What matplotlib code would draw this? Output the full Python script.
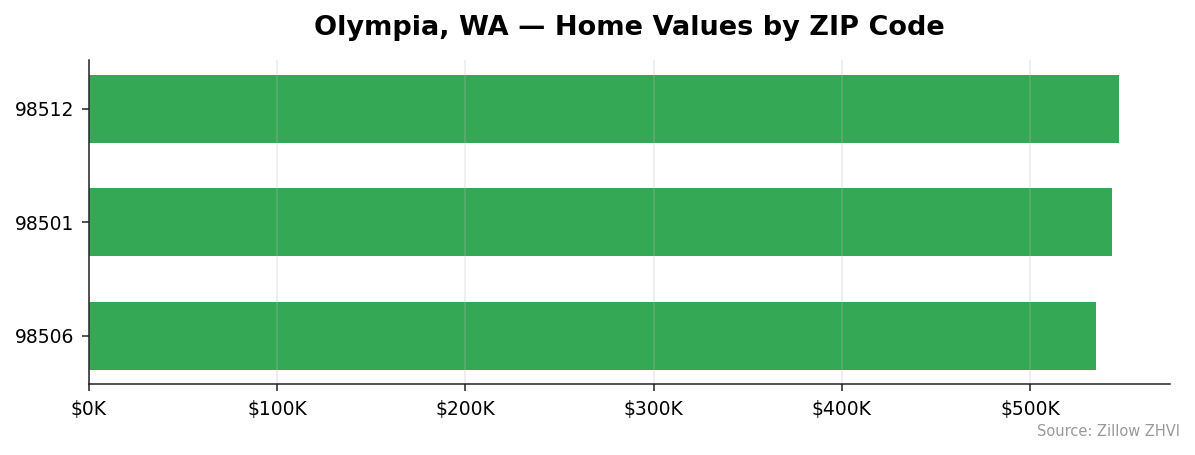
import matplotlib
matplotlib.use("Agg")
import matplotlib.pyplot as plt
from matplotlib.ticker import FuncFormatter

zips = ["98506", "98501", "98512"]
values = [535100, 543600, 547200]

fig = plt.figure(figsize=(11.95, 4.55), dpi=100)
ax = fig.add_axes([89/1195, 1-384.3/455, (1170.3-89)/1195, (384.3-60)/455])

ax.barh(zips, values, height=0.6, color="#35a855")
ax.set_xlim(0, max(values) * 1.05)
ax.xaxis.set_major_formatter(FuncFormatter(lambda v, p: f"${v/1000:.0f}K"))
ax.grid(axis="x", color="#bbbbbb", alpha=0.3, linewidth=1.1)
ax.spines["top"].set_visible(False)
ax.spines["right"].set_visible(False)
for s in ("left", "bottom"):
    ax.spines[s].set_color("#222222")
    ax.spines[s].set_linewidth(1.1)
ax.tick_params(axis="both", labelsize=13.5, colors="#222222", labelcolor="black",
               length=5, width=1.1)
ax.tick_params(axis="y", pad=5.5)
ax.tick_params(axis="x", pad=6.5)
ax.set_title("Olympia, WA — Home Values by ZIP Code", fontsize=19.5, fontweight="bold", pad=18)
fig.text(1180/1195, 1-432/455, "Source: Zillow ZHVI", ha="right", va="center", fontsize=10.5, color="#999999")

fig.savefig("out.png", dpi=100)
